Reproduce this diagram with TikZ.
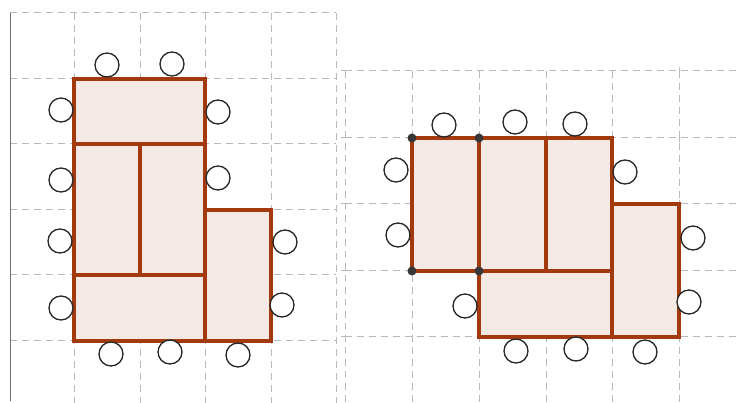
\documentclass[tikz,border=0pt]{standalone}
\definecolor{gridc}{RGB}{185,185,185}
\definecolor{edgec}{RGB}{163,58,14}
\definecolor{fillc}{RGB}{244,233,229}
\definecolor{axisc}{RGB}{110,110,110}
\definecolor{dotc}{RGB}{55,55,55}
\tikzset{
  gridline/.style={gridc, line width=1pt, dash pattern=on 7pt off 5pt},
  tile/.style={draw=edgec, fill=fillc, line width=3.2pt, line join=miter},
  seat/.style={circle, draw=black!85, line width=1.3pt, minimum size=24pt, inner sep=0pt, fill=white},
  vtx/.style={circle, fill=dotc, minimum size=9pt, inner sep=0pt},
}
\begin{document}
\begin{tikzpicture}[x=1pt,y=-1pt]
\useasboundingbox (0,0) rectangle (737,403);
% ---------- left grid ----------
\foreach \y in {13,79,144,210,275,341} \draw[gridline] (10,\y) -- (336,\y);
\foreach \x in {74,140,205,271,336} \draw[gridline] (\x,13) -- (\x,403);
\draw[axisc, line width=1pt] (10,13) -- (10,401);
% ---------- right grid ----------
\foreach \y in {71,138,204,271,337} \draw[gridline] (345,\y) -- (737,\y);
\foreach \x in {345,412,479,546,612,679} \draw[gridline] (\x,71) -- (\x,403);
\foreach \y in {71,138,204,271,337} \draw[gridc, line width=1pt] (341,\y) -- (349,\y);
\foreach \x in {679} \foreach \y in {71,138,204,271,337} \draw[gridc, line width=1pt] (\x,\y-4) -- (\x,\y+4);
% ---------- left tiles ----------
\draw[tile] (74,79) rectangle (205,144);
\draw[tile] (74,144) rectangle (140,275);
\draw[tile] (140,144) rectangle (205,275);
\draw[tile] (74,275) rectangle (205,341);
\draw[tile] (205,210) rectangle (271,341);
% ---------- left seats ----------
\node[seat] (l1) at (107,65) {};
\node[seat] (l2) at (172,64) {};
\node[seat] (l3) at (61,110) {};
\node[seat] (l4) at (218,112) {};
\node[seat] (l5) at (61,180) {};
\node[seat] (l6) at (218,178) {};
\node[seat] (l7) at (60,241) {};
\node[seat] (l8) at (285,242) {};
\node[seat] (l9) at (61,308) {};
\node[seat] (l10) at (282,305) {};
\node[seat] (l11) at (111,354) {};
\node[seat] (l12) at (170,352) {};
\node[seat] (l13) at (238,355) {};
% ---------- right tiles ----------
\draw[tile] (412,138) rectangle (479,271);
\draw[tile] (479,138) rectangle (546,271);
\draw[tile] (546,138) rectangle (612,271);
\draw[tile] (479,271) rectangle (612,337);
\draw[tile] (612,204) rectangle (679,337);
\node[vtx] (v1) at (412,138) {};
\node[vtx] (v2) at (479,138) {};
\node[vtx] (v3) at (412,271) {};
\node[vtx] (v4) at (479,271) {};
% ---------- right seats ----------
\node[seat] (r1) at (444,125) {};
\node[seat] (r2) at (515,122) {};
\node[seat] (r3) at (575,124) {};
\node[seat] (r4) at (396,170) {};
\node[seat] (r5) at (625,172) {};
\node[seat] (r6) at (398,235) {};
\node[seat] (r7) at (693,238) {};
\node[seat] (r8) at (465,306) {};
\node[seat] (r9) at (689,302) {};
\node[seat] (r10) at (516,351) {};
\node[seat] (r11) at (576,349) {};
\node[seat] (r12) at (645,352) {};
\end{tikzpicture}
\end{document}
